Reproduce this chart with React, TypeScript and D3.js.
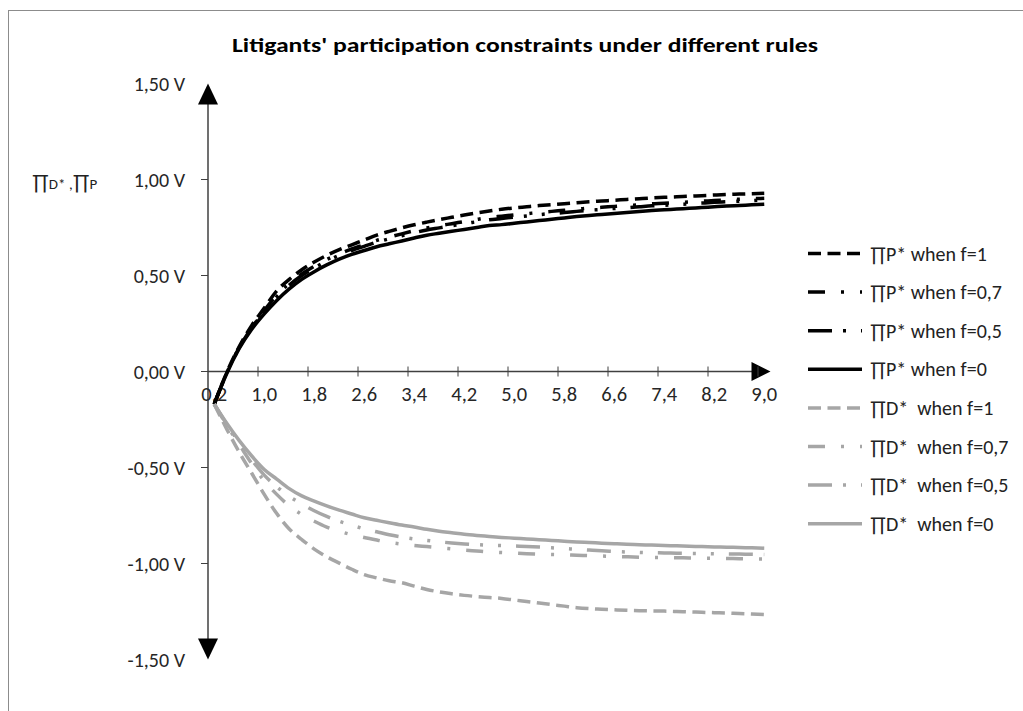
import React from "react";
import * as d3 from "d3";

const categories = [
  0.2, 0.4, 0.6, 0.8, 1.0, 1.2, 1.4, 1.6, 1.8, 2.0, 2.2, 2.4, 2.6, 2.8, 3.0,
  3.2, 3.4, 3.6, 3.8, 4.0, 4.2, 4.4, 4.6, 4.8, 5.0, 5.2, 5.4, 5.6, 5.8, 6.0,
  6.2, 6.4, 6.6, 6.8, 7.0, 7.2, 7.4, 7.6, 7.8, 8.0, 8.2, 8.4, 8.6, 8.8, 9.0,
];

const pF1 = [
  -0.17, -0.005, 0.13, 0.24, 0.33, 0.42, 0.48, 0.53, 0.57, 0.605, 0.635, 0.66, 0.685, 0.71, 0.73,
  0.748, 0.764, 0.778, 0.791, 0.803, 0.815, 0.826, 0.836, 0.845, 0.852, 0.858, 0.864, 0.869, 0.874, 0.879,
  0.884, 0.888, 0.892, 0.896, 0.9, 0.904, 0.907, 0.91, 0.913, 0.916, 0.919, 0.922, 0.924, 0.926, 0.928,
];
const pF07 = [
  -0.17, -0.007, 0.125, 0.231, 0.317, 0.398, 0.458, 0.508, 0.548, 0.583, 0.613, 0.638, 0.66, 0.683, 0.7,
  0.717, 0.733, 0.747, 0.759, 0.77, 0.781, 0.792, 0.802, 0.809, 0.816, 0.822, 0.829, 0.834, 0.84, 0.845,
  0.851, 0.855, 0.86, 0.864, 0.868, 0.873, 0.876, 0.88, 0.883, 0.887, 0.89, 0.894, 0.897, 0.9, 0.902,
];
const pF05 = [
  -0.17, -0.008, 0.124, 0.228, 0.312, 0.39, 0.45, 0.5, 0.54, 0.575, 0.605, 0.63, 0.652, 0.674, 0.691,
  0.707, 0.723, 0.737, 0.748, 0.759, 0.77, 0.78, 0.79, 0.797, 0.804, 0.81, 0.817, 0.823, 0.828, 0.834,
  0.84, 0.844, 0.849, 0.853, 0.858, 0.863, 0.866, 0.87, 0.873, 0.877, 0.881, 0.884, 0.887, 0.89, 0.894,
];
const pF0 = [
  -0.17, -0.01, 0.12, 0.22, 0.3, 0.37, 0.43, 0.48, 0.52, 0.555, 0.585, 0.61, 0.63, 0.65, 0.665,
  0.68, 0.695, 0.71, 0.72, 0.73, 0.74, 0.75, 0.76, 0.765, 0.772, 0.779, 0.786, 0.793, 0.8, 0.807,
  0.813, 0.818, 0.823, 0.828, 0.833, 0.838, 0.842, 0.846, 0.85, 0.854, 0.858, 0.862, 0.865, 0.868, 0.871,
];
const dF1 = [
  -0.17, -0.3, -0.42, -0.53, -0.64, -0.74, -0.82, -0.875, -0.925, -0.965, -0.998, -1.03, -1.058, -1.075, -1.09,
  -1.1, -1.118, -1.135, -1.148, -1.158, -1.166, -1.172, -1.177, -1.182, -1.19, -1.198, -1.206, -1.214, -1.222, -1.23,
  -1.235, -1.238, -1.241, -1.244, -1.246, -1.247, -1.248, -1.25, -1.252, -1.254, -1.256, -1.258, -1.261, -1.263, -1.266,
];
const dF07 = [
  -0.17, -0.28, -0.38, -0.48, -0.57, -0.64, -0.7, -0.745, -0.78, -0.81, -0.832, -0.85, -0.865, -0.878, -0.89,
  -0.899, -0.906, -0.912, -0.918, -0.924, -0.93, -0.935, -0.94, -0.943, -0.946, -0.949, -0.951, -0.953, -0.955, -0.957,
  -0.959, -0.961, -0.963, -0.965, -0.967, -0.968, -0.969, -0.97, -0.971, -0.972, -0.973, -0.974, -0.975, -0.976, -0.977,
];
const dF05 = [
  -0.17, -0.275, -0.37, -0.46, -0.54, -0.6, -0.65, -0.69, -0.725, -0.755, -0.78, -0.8, -0.82, -0.835, -0.85,
  -0.862, -0.872, -0.88, -0.887, -0.893, -0.898, -0.902, -0.905, -0.907, -0.909, -0.911, -0.914, -0.918, -0.922, -0.926,
  -0.93, -0.934, -0.937, -0.94, -0.942, -0.944, -0.945, -0.946, -0.947, -0.948, -0.949, -0.95, -0.951, -0.952, -0.953,
];
const dF0 = [
  -0.17, -0.27, -0.36, -0.44, -0.51, -0.56, -0.61, -0.648, -0.675, -0.7, -0.722, -0.742, -0.762, -0.775, -0.788,
  -0.8, -0.81, -0.822, -0.832, -0.84, -0.848, -0.854, -0.859, -0.864, -0.868, -0.872, -0.876, -0.88, -0.884, -0.888,
  -0.891, -0.894, -0.897, -0.9, -0.902, -0.904, -0.906, -0.908, -0.91, -0.912, -0.914, -0.915, -0.917, -0.918, -0.92,
];

const yTicks = [1.5, 1.0, 0.5, 0, -0.5, -1.0, -1.5];
const seriesNames = [
  "∏P* when f=1",
  "∏P* when f=0,7",
  "∏P* when f=0,5",
  "∏P* when f=0",
  "∏D*\u00a0 when f=1",
  "∏D*\u00a0 when f=0,7",
  "∏D*\u00a0 when f=0,5",
  "∏D*\u00a0 when f=0",
];
const title = "Litigants' participation constraints under different rules";

const BLACK = "#000000";
const GRAY = "#a6a6a6";
const DASH = "13,6.5";
const DASH_DOT = "17,16,3,16";
const DASH_DOT_DOT = "24,11,3,15,3,15";

const series = [
  { name: seriesNames[0], values: pF1, color: BLACK, dash: DASH },
  { name: seriesNames[1], values: pF07, color: BLACK, dash: DASH_DOT },
  { name: seriesNames[2], values: pF05, color: BLACK, dash: DASH_DOT_DOT },
  { name: seriesNames[3], values: pF0, color: BLACK, dash: "none" },
  { name: seriesNames[4], values: dF1, color: GRAY, dash: DASH },
  { name: seriesNames[5], values: dF07, color: GRAY, dash: DASH_DOT },
  { name: seriesNames[6], values: dF05, color: GRAY, dash: DASH_DOT_DOT },
  { name: seriesNames[7], values: dF0, color: GRAY, dash: "none" },
];

const locale = d3.formatLocale({
  decimal: ",",
  thousands: ".",
  grouping: [3],
  currency: ["", ""],
  minus: "-",
});
const fmtY = locale.format(".2f");
const fmtX = locale.format(".1f");

const FONT = "Carlito, Lato, 'Open Sans', sans-serif";

export default function App() {
  const W = 1023;
  const H = 711;
  const x = d3
    .scaleBand<number>()
    .domain(categories)
    .range([208, 770.5])
    .paddingInner(0)
    .paddingOuter(0);
  const y = d3.scaleLinear().domain([-1.5, 1.5]).range([659.5, 83.5]);
  const cx = (v: number) => (x(v) as number) + x.bandwidth() / 2;
  const x0 = x.range()[0];
  const xEnd = x.range()[1];
  const y0 = y(0);

  const lineGen = d3
    .line<number>()
    .x((_, i) => cx(categories[i]))
    .y((d) => y(d))
    .curve(d3.curveMonotoneX);

  const xTickIdx = categories.map((_, i) => i).filter((i) => i % 4 === 0 && i > 0);
  const xLabelIdx = categories.map((_, i) => i).filter((i) => i % 4 === 0);

  const legendX1 = 808;
  const legendX2 = 862;
  const legendY0 = 253.5;
  const legendStep = 38.6;

  return (
    <svg
      width={W}
      height={H}
      style={{ position: "absolute", left: 0, top: 0, background: "#fff" }}
      fontFamily={FONT}
    >
      <rect x={0} y={0} width={W} height={H} fill="#fff" />
      <rect x={8.5} y={10.5} width={W + 20} height={H + 20} fill="none" stroke="#8c8c8c" strokeWidth={1} />

      <text
        x={525}
        y={52}
        textAnchor="middle"
        fontSize={21}
        fontWeight="bold"
        fill="#000"
        textLength={586}
        lengthAdjust="spacingAndGlyphs"
      >
        {title}
      </text>

      {/* y-axis title */}
      <text x={32} y={189} fill="#222" fontSize={16}>
        <tspan fontSize={21}>∏</tspan>
        <tspan fontSize={15}>D* ,</tspan>
        <tspan fontSize={21}>∏</tspan>
        <tspan fontSize={15}>P</tspan>
      </text>

      {/* y ticks & labels */}
      {yTicks.map((t) => (
        <g key={"yt" + t}>
          {Math.abs(t) < 1.5 && (
            <line x1={x0 - 7} x2={x0} y1={y(t)} y2={y(t)} stroke="#404040" strokeWidth={1} />
          )}
          <text
            x={185}
            y={y(t)}
            dy="0.35em"
            textAnchor="end"
            fontSize={20}
            fill="#262626"
          >
            {fmtY(t) + " V"}
          </text>
        </g>
      ))}

      {/* y axis with arrows */}
      <line x1={x0} x2={x0} y1={y(1.5) + 10} y2={y(-1.5) - 10} stroke="#404040" strokeWidth={1.5} />
      <polygon
        points={`${x0},${y(1.5)} ${x0 - 10},${y(1.5) + 21} ${x0 + 10},${y(1.5) + 21}`}
        fill="#000"
      />
      <polygon
        points={`${x0},${y(-1.5)} ${x0 - 10},${y(-1.5) - 21} ${x0 + 10},${y(-1.5) - 21}`}
        fill="#000"
      />

      {/* x axis */}
      <line x1={x0} x2={xEnd - 10} y1={y0} y2={y0} stroke="#404040" strokeWidth={1.5} />
      <polygon
        points={`${xEnd},${y0} ${xEnd - 19},${y0 - 9.5} ${xEnd - 19},${y0 + 9.5}`}
        fill="#000"
      />
      {xTickIdx.map((i) => {
        const xp = x(categories[i]) as number;
        return (
          <line key={"xt" + i} x1={xp} x2={xp} y1={y0 - 5} y2={y0 + 5} stroke="#404040" strokeWidth={1} />
        );
      })}
      <line x1={x0 - 5} x2={x0 + 5} y1={y0} y2={y0} stroke="#404040" strokeWidth={1} />
      {xLabelIdx.map((i) => (
        <text
          key={"xl" + i}
          x={cx(categories[i])}
          y={401}
          textAnchor="middle"
          fontSize={20.5}
          fill="#262626"
        >
          {fmtX(categories[i])}
        </text>
      ))}

      {/* series */}
      {series.map((s, k) => (
        <path
          key={"s" + k}
          d={lineGen(s.values) || ""}
          fill="none"
          stroke={s.color}
          strokeWidth={3.5}
          strokeDasharray={s.dash}
          strokeLinejoin="round"
        />
      ))}

      {/* legend */}
      {series.map((s, k) => {
        const ly = legendY0 + k * legendStep;
        return (
          <g key={"lg" + k}>
            <line
              x1={legendX1}
              x2={legendX2}
              y1={ly}
              y2={ly}
              stroke={s.color}
              strokeWidth={3.5}
              strokeDasharray={s.dash}
            />
            <text x={870} y={ly} dy="0.35em" fontSize={20} fill="#222">
              {s.name}
            </text>
          </g>
        );
      })}
    </svg>
  );
}
